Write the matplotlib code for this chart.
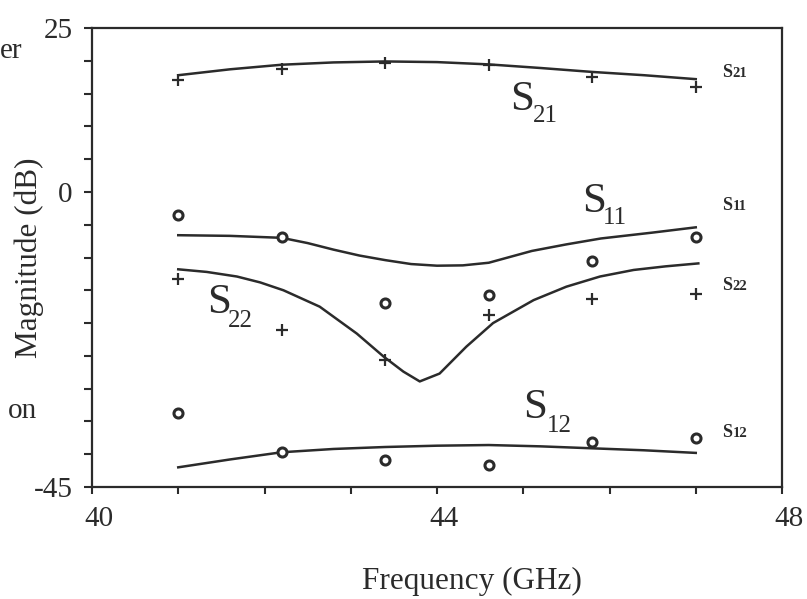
import matplotlib
matplotlib.use("Agg")
import matplotlib.pyplot as plt
import matplotlib.transforms as mtransforms

# measured points (GHz, dB)
freq_meas = [41.0, 42.2, 43.4, 44.6, 45.8, 47.0]
s21_meas = [17.1, 18.8, 19.6, 19.3, 17.6, 16.0]
s11_meas = [-3.5, -6.9, -16.9, -15.7, -10.6, -6.9]
s22_meas = [-13.3, -21.1, -25.6, -18.8, -16.3, -15.6]
s12_meas = [-33.7, -39.7, -40.9, -41.6, -38.1, -37.5]

# simulated curves
freq_s21 = [41.0, 41.6, 42.2, 42.8, 43.4, 44.0, 44.6, 45.2, 45.8, 46.4, 47.0]
s21_sim = [17.8, 18.7, 19.4, 19.75, 19.9, 19.8, 19.45, 18.9, 18.3, 17.8, 17.2]

freq_s11 = [41.0, 41.6, 42.2, 42.5, 42.8, 43.1, 43.4, 43.7, 44.0, 44.3, 44.6, 45.1, 45.5, 45.9, 46.5, 47.0]
s11_sim = [-6.6, -6.7, -7.0, -7.8, -8.8, -9.7, -10.4, -11.0, -11.25, -11.2, -10.8, -9.0, -8.0, -7.1, -6.2, -5.4]

freq_s22 = [41.0, 41.33, 41.68, 41.95, 42.22, 42.64, 43.07, 43.38, 43.61, 43.80, 44.03, 44.34,
            44.65, 45.12, 45.5, 45.89, 46.28, 46.65, 47.03]
s22_sim = [-11.8, -12.2, -12.9, -13.8, -15.0, -17.5, -21.6, -25.1, -27.4, -28.9, -27.7, -23.6,
           -20.0, -16.5, -14.45, -12.9, -11.9, -11.35, -10.9]

freq_s12 = [41.0, 41.6, 42.2, 42.8, 43.4, 44.0, 44.6, 45.2, 45.8, 46.4, 47.0]
s12_sim = [-42.0, -40.8, -39.7, -39.2, -38.9, -38.7, -38.6, -38.8, -39.1, -39.4, -39.8]

x_ticklabels = {40: "40", 44: "44", 48: "48"}
y_ticklabels = {25: "25", 0: "0", -45: "-45"}

ink = "#2b2b2b"
plt.rcParams["font.family"] = ["Liberation Serif", "DejaVu Serif"]

fig = plt.figure(figsize=(8.07, 5.99), dpi=100)
ax = fig.add_axes([92 / 807, 1 - 487 / 599, 690 / 807, 459 / 599])

for f, v in [(freq_s21, s21_sim), (freq_s11, s11_sim), (freq_s22, s22_sim), (freq_s12, s12_sim)]:
    ax.plot(f, v, color=ink, lw=1.8, solid_joinstyle="round")

plus = dict(ls="none", marker="+", ms=9, mew=1.6, color=ink)
circ = dict(ls="none", marker="o", ms=6.5, mew=2.2, mfc="white", mec=ink)
ax.plot(freq_meas, s21_meas, **plus)
ax.plot(freq_meas, s22_meas, **plus)
ax.plot(freq_meas, s11_meas, **circ)
ax.plot(freq_meas, s12_meas, **circ)

ax.set_xlim(40, 48)
ax.set_ylim(-45, 25)
xt = list(range(40, 49))
yt = list(range(-45, 26, 5))
ax.set_xticks(xt)
ax.set_xticklabels([x_ticklabels.get(t, "") for t in xt])
ax.set_yticks(yt)
ax.set_yticklabels([y_ticklabels.get(t, "") for t in yt])
ax.tick_params(axis="x", length=5, width=1.5, color=ink, labelsize=21, pad=9, labelcolor=ink)
ax.tick_params(axis="y", length=6, width=1.5, color=ink, labelsize=21, pad=8, labelcolor=ink)
for s in ax.spines.values():
    s.set_linewidth(1.6)
    s.set_color(ink)

# the scanned labels sit a little right of their ticks
shift = mtransforms.ScaledTranslation(5 / 72, 0, fig.dpi_scale_trans)
for lab in ax.get_xticklabels():
    lab.set_transform(lab.get_transform() + shift)

ax.set_xlabel("Frequency (GHz)", fontsize=22.5, color=ink, labelpad=25)
ax.xaxis.label.set_x(0.551)
ax.set_ylabel("Magnitude (dB)", fontsize=22.5, color=ink)
ax.yaxis.set_label_coords(-0.069, 0.5)


def big_label(f, db, sub, dx, dy):
    ax.text(f, db, "S", fontsize=31, color=ink, ha="left", va="baseline")
    ax.annotate(sub, xy=(f, db), xytext=(dx, dy), textcoords="offset points",
                fontsize=18, color=ink, ha="left", va="baseline")


big_label(44.85, 12.5, "21", 16, -9)
big_label(45.68, -3.06, "11", 15, -9)
big_label(41.33, -18.47, "22", 15, -10)
big_label(45.0, -34.5, "12", 17, -10)


def small_label(db, sub):
    ax.text(47.30, db, "S", fontsize=13, fontweight="bold", color=ink, ha="left", va="baseline")
    ax.annotate(sub, xy=(47.30, db), xytext=(8, 0), textcoords="offset points",
                fontsize=10.5, fontweight="bold", color=ink, ha="left", va="baseline")


small_label(17.5, "21")
small_label(-2.76, "11")
small_label(-14.96, "22")
small_label(-37.4, "12")

# fragments of the neighbouring page text
fig.text(0, 1 - 58 / 599, "er", fontsize=21, color=ink, ha="left", va="baseline")
fig.text(37 / 807, 1 - 418 / 599, "on", fontsize=21, color=ink, ha="right", va="baseline")

fig.savefig("out.png", dpi=100)
